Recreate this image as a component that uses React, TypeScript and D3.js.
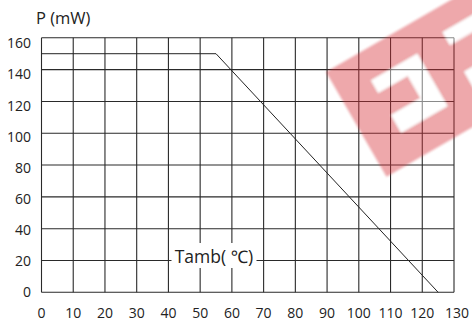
import React, { useRef, useEffect } from 'react';
import * as d3 from 'd3';

// axis ticks
const xTicks = [0, 10, 20, 30, 40, 50, 60, 70, 80, 90, 100, 110, 120, 130];
const yTicks = [0, 20, 40, 60, 80, 100, 120, 140, 160];

// derating curve: ambient temperature (°C) -> power (mW)
const curveTemp = [0, 55, 125];
const curvePower = [150, 150, 0];

const yTitle = 'P (mW)';
const xTitle = 'Tamb( \u2103)';

// watermark shapes in the rotated frame of the band
const bandSize = [400, 121];
const holes = [
  [[35, 30], [88, 30], [88, 90], [35, 90], [35, 70], [69, 70], [69, 44], [35, 44]],
  [[121, 24], [220, 24], [220, 38.5], [121, 38.5]],
  [[120, 69], [220, 69], [220, 90], [120, 90]],
];

const App = () => {
  const svgRef = useRef<SVGSVGElement>(null);

  useEffect(() => {
    const svg = d3.select(svgRef.current);
    svg.selectAll('*').remove();

    const width = 472;
    const height = 324;
    const font = "'Open Sans', 'Noto Sans', sans-serif";

    const x = d3.scaleLinear().domain([0, 130]).range([41.5, 454]);
    const y = d3.scaleLinear().domain([0, 160]).range([292.3, 37.8]);
    // tick labels in the original sit on a slightly tighter spacing
    const yLabel = d3.scaleLinear().domain([0, 160]).range([292, 43.5]);

    svg.append('rect').attr('width', width).attr('height', height).attr('fill', '#fff');

    // grid
    const grid = svg.append('g').attr('stroke', '#2a2a2a').attr('stroke-width', 1.1);
    grid.selectAll('line.v')
      .data(xTicks)
      .join('line')
      .attr('class', 'v')
      .attr('x1', d => x(d)).attr('x2', d => x(d))
      .attr('y1', y(0)).attr('y2', y(160));
    grid.selectAll('line.h')
      .data(yTicks)
      .join('line')
      .attr('class', 'h')
      .attr('x1', x(0)).attr('x2', x(130))
      .attr('y1', d => y(d)).attr('y2', d => y(d));

    // curve
    const pts: [number, number][] = curveTemp.map((t, i) => [t, curvePower[i]]);
    const line = d3.line<[number, number]>().x(d => x(d[0])).y(d => y(d[1]));
    svg.append('path')
      .attr('d', line(pts))
      .attr('fill', 'none')
      .attr('stroke', '#222')
      .attr('stroke-width', 1);

    // tick labels
    svg.append('g')
      .selectAll('text')
      .data(yTicks)
      .join('text')
      .attr('x', 31)
      .attr('y', d => yLabel(d))
      .attr('dy', '0.35em')
      .attr('text-anchor', 'end')
      .attr('font-family', font)
      .attr('font-size', 14)
      .attr('fill', '#222')
      .text(d => d);

    svg.append('g')
      .selectAll('text')
      .data(xTicks)
      .join('text')
      .attr('x', d => x(d) + (d === 130 ? 3 : 0))
      .attr('y', 317.5)
      .attr('text-anchor', 'middle')
      .attr('font-family', font)
      .attr('font-size', 14)
      .attr('fill', '#222')
      .text(d => d);

    // titles
    svg.append('text')
      .attr('x', 36)
      .attr('y', 24)
      .attr('font-family', font)
      .attr('font-size', 16.5)
      .attr('fill', '#222')
      .text(yTitle);

    svg.append('rect')
      .attr('x', 171.5).attr('y', 243)
      .attr('width', 85).attr('height', 25)
      .attr('fill', '#fff');
    svg.append('text')
      .attr('x', 214)
      .attr('y', 262.5)
      .attr('text-anchor', 'middle')
      .attr('font-family', font)
      .attr('font-size', 17.5)
      .attr('fill', '#222')
      .text(xTitle);

    // red watermark
    const defs = svg.append('defs');
    defs.append('filter').attr('id', 'soft')
      .append('feGaussianBlur').attr('stdDeviation', 0.8);

    const toPath = (poly: number[][]) => 'M' + poly.map(p => p.join(',')).join('L') + 'Z';
    const [bw, bh] = bandSize;
    const bandD = toPath([[0, 0], [bw, 0], [bw, bh], [0, bh]]) + holes.map(toPath).join('');

    const wm = svg.append('g')
      .attr('transform', 'translate(326,72) rotate(-30)')
      .attr('filter', 'url(#soft)');
    wm.append('path')
      .attr('d', bandD)
      .attr('fill-rule', 'evenodd')
      .attr('fill', '#d62a35')
      .attr('opacity', 0.42);
    wm.selectAll('path.hole')
      .data(holes)
      .join('path')
      .attr('class', 'hole')
      .attr('d', d => toPath(d))
      .attr('fill', '#fff')
      .attr('opacity', 0.45);
  }, []);

  return (
    <svg
      ref={svgRef}
      width="472"
      height="324"
      style={{ position: 'absolute', left: 0, top: 0 }}
    ></svg>
  );
};

export default App;
